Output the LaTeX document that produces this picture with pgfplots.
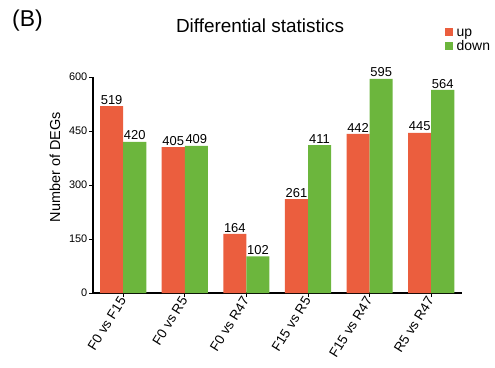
\documentclass[border=0pt]{standalone}
\usepackage{pgfplots}
\pgfplotsset{compat=1.18}
\usepackage{fontspec}
\setmainfont{Liberation Sans}
\definecolor{upc}{RGB}{235,94,62}
\definecolor{downc}{RGB}{108,182,61}
\begin{document}
\begin{tikzpicture}[x=1bp,y=1bp]
\useasboundingbox (0,0) rectangle (495,367);
\node[anchor=base west, font=\fontsize{23}{23}\selectfont, inner sep=0pt] at (12,341) {(B)};
\begin{axis}[
  at={(93bp,74bp)}, anchor=south west,
  scale only axis, width=369bp, height=216bp,
  xmin=-0.49, xmax=5.5, ymin=0, ymax=600,
  axis lines*=left,
  axis line style={line width=1.5bp, black},
  ytick={0,150,300,450,600},
  xtick={0,1,2,3,4,5},
  xticklabels={F0 vs F15,F0 vs R5,F0 vs R47,F15 vs R5,F15 vs R47,R5 vs R47},
  tick align=outside, major tick length=4bp,
  tick style={line width=1bp, black},
  ybar=0pt, bar width=0.375,
  clip=false,
  nodes near coords,
  nodes near coords style={font=\fontsize{13}{13}\selectfont, inner sep=1.5bp, black},
  /pgf/number format/assume math mode=true,
  yticklabel style={font=\fontsize{11}{11}\selectfont, inner sep=1.5bp},
  xticklabel style={font=\fontsize{13.5}{13.5}\selectfont, rotate=58, anchor=east, inner sep=1bp},
  ylabel={Number of DEGs},
  ylabel style={font=\fontsize{14.5}{14.5}\selectfont, at={(axis description cs:-0.088,0.583)}, anchor=south, inner sep=0pt},
  title={Differential statistics},
  title style={font=\fontsize{19}{19}\selectfont, at={(axis description cs:0.4526,1.1806)}, anchor=base, inner sep=0pt},
  legend style={at={(axis description cs:0.954,1.24)}, anchor=north west, draw=none, fill=none,
    font=\fontsize{14}{14}\selectfont, inner sep=0pt, row sep=0bp,
    nodes={inner ysep=1bp, inner xsep=3.5bp, text height=10bp, text depth=2bp}},
  legend cell align=left,
  legend image code/.code={\fill[#1] (0bp,-3.5bp) rectangle (8bp,4.5bp);},
]
\addplot[fill=upc, draw=none] coordinates {(0,519) (1,405) (2,164) (3,261) (4,442) (5,445)};
\addplot[fill=downc, draw=none] coordinates {(0,420) (1,409) (2,102) (3,411) (4,595) (5,564)};
\legend{up,down}
\end{axis}
\end{tikzpicture}
\end{document}
